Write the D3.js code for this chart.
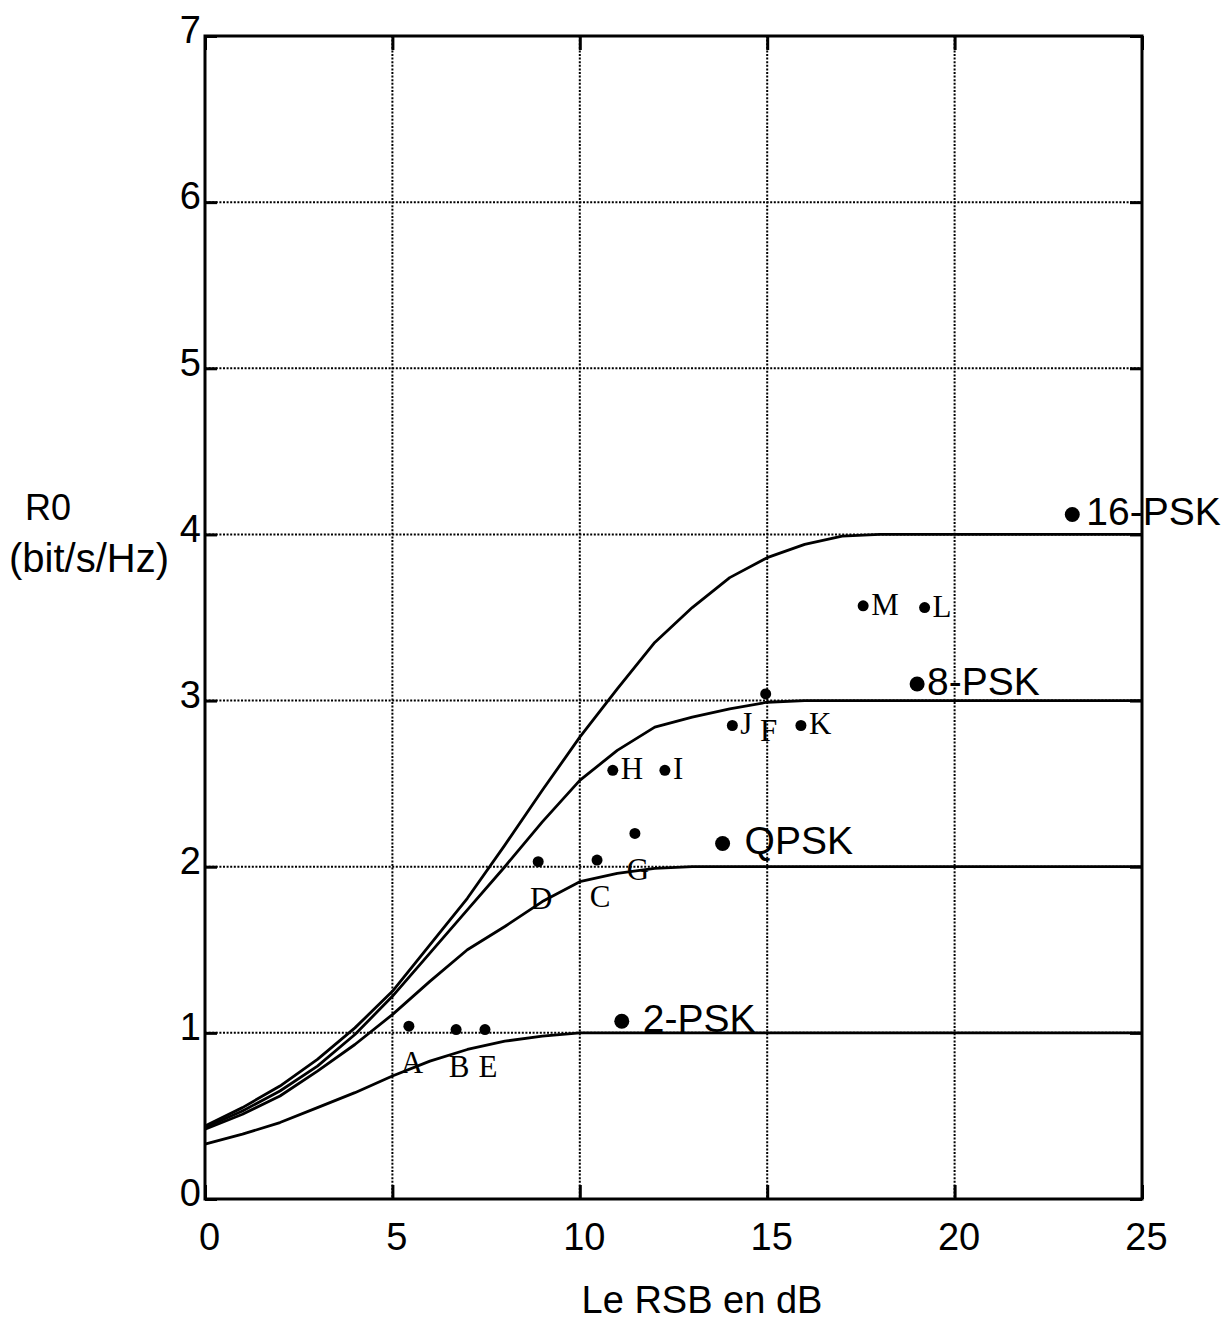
<!DOCTYPE html>
<html lang="fr">
<head>
<meta charset="utf-8">
<title>R0 vs RSB</title>
<script src="https://d3js.org/d3.v7.min.js"></script>
<style>
  body { margin: 0; background: #fff; }
  svg { display: block; }
  .tick text { font-family: "Liberation Sans", Arial, sans-serif; font-size: 38px; fill: #000; }
</style>
</head>
<body>
<script>
// data
var snr = [0,1,2,3,4,5,6,7,8,9,10,11,12,13,14,15,16,17,18,19,20,21,22,23,24,25];
var psk2  = [0.33,0.39,0.46,0.55,0.64,0.74,0.83,0.90,0.95,0.98,1.00,1,1,1,1,1,1,1,1,1,1,1,1,1,1,1];
var qpsk  = [0.42,0.51,0.62,0.77,0.93,1.11,1.31,1.50,1.64,1.79,1.91,1.96,1.99,2,2,2,2,2,2,2,2,2,2,2,2,2];
var psk8  = [0.43,0.53,0.65,0.80,0.99,1.22,1.48,1.74,2.00,2.27,2.52,2.70,2.84,2.90,2.95,2.99,3,3,3,3,3,3,3,3,3,3];
var psk16 = [0.44,0.55,0.68,0.84,1.03,1.25,1.53,1.81,2.13,2.46,2.78,3.07,3.35,3.56,3.74,3.86,3.94,3.99,4,4,4,4,4,4,4,4];

// measured points (small) and the modulation labels (big)
var ptNames = ["A","B","E","D","C","G","H","I","J","F","K","M","L"];
var ptSnr   = [5.44,6.70,7.47,8.89,10.46,11.47,10.88,12.27,14.07,14.96,15.90,17.56,19.20];
var ptR0    = [1.04,1.02,1.02,2.03,2.04,2.20,2.58,2.58,2.85,3.04,2.85,3.57,3.56];
var ptSide  = ["below","below","below","below","below","below","right","right","right","below","right","right","right"];

var modNames = ["2-PSK","QPSK","8-PSK","16-PSK"];
var modSnr   = [11.12,13.81,19.00,23.14];
var modR0    = [1.07,2.14,3.10,4.12];
var modGap   = [21,22,10,14];

var xTicks = [0,5,10,15,20,25];
var yTicks = [0,1,2,3,4,5,6,7];

var W = 1224, H = 1320;
var x0 = 205, x1 = 1142, yb = 1199, yt = 36;

var svg = d3.select("body").append("svg")
  .attr("width", W).attr("height", H);

var x = d3.scaleLinear().domain([0, 25]).range([x0, x1]);
var y = d3.scaleLinear().domain([0, 7]).range([yb, yt]);

// dotted grid
var grid = svg.append("g")
  .attr("stroke", "#000").attr("stroke-width", 2)
  .attr("stroke-dasharray", "2,1.6");
grid.selectAll("line.v").data(xTicks.slice(1, -1)).enter().append("line")
  .attr("x1", function(d){ return x(d); }).attr("x2", function(d){ return x(d); })
  .attr("y1", yt).attr("y2", yb);
grid.selectAll("line.h").data(yTicks.slice(1, -1)).enter().append("line")
  .attr("x1", x0).attr("x2", x1)
  .attr("y1", function(d){ return y(d); }).attr("y2", function(d){ return y(d); });

// axes (ticks inward)
var gx = svg.append("g").attr("transform", "translate(0," + yb + ")")
  .call(d3.axisBottom(x).tickValues(xTicks).tickFormat(d3.format("d"))
    .tickSizeInner(-14).tickSizeOuter(0).tickPadding(24));
gx.selectAll("text").attr("dx", 4);
var gy = svg.append("g").attr("transform", "translate(" + x0 + ",0)")
  .call(d3.axisLeft(y).tickValues(yTicks).tickFormat(d3.format("d"))
    .tickSizeInner(-12).tickSizeOuter(0).tickPadding(4));
gy.selectAll("text").attr("dy", "0.18em");
svg.append("g").attr("transform", "translate(0," + yt + ")")
  .call(d3.axisTop(x).tickValues(xTicks).tickSizeInner(-14).tickSizeOuter(0).tickFormat(""));
svg.append("g").attr("transform", "translate(" + x1 + ",0)")
  .call(d3.axisRight(y).tickValues(yTicks).tickSizeInner(-12).tickSizeOuter(0).tickFormat(""));
svg.selectAll(".domain").remove();
svg.selectAll(".tick line").attr("stroke", "#000").attr("stroke-width", 3);

// frame
svg.append("rect")
  .attr("x", x0).attr("y", yt).attr("width", x1 - x0).attr("height", yb - yt)
  .attr("fill", "none").attr("stroke", "#000").attr("stroke-width", 3);

// curves
var line = d3.line()
  .x(function(d){ return x(d[0]); })
  .y(function(d){ return y(d[1]); });
[psk2, qpsk, psk8, psk16].forEach(function(s){
  svg.append("path")
    .datum(snr.map(function(v, i){ return [v, s[i]]; }))
    .attr("fill", "none").attr("stroke", "#000").attr("stroke-width", 2.8)
    .attr("stroke-linejoin", "round")
    .attr("d", line);
});

// small points with serif letters
var pts = ptNames.map(function(n, i){ return {name: n, x: ptSnr[i], y: ptR0[i], side: ptSide[i]}; });
svg.selectAll("circle.pt").data(pts).enter().append("circle")
  .attr("class", "pt")
  .attr("cx", function(d){ return x(d.x); })
  .attr("cy", function(d){ return y(d.y); })
  .attr("r", 5.5).attr("fill", "#000");
svg.selectAll("text.pt").data(pts).enter().append("text")
  .attr("class", "pt")
  .attr("x", function(d){ return x(d.x) + (d.side == "below" ? 3 : 8); })
  .attr("y", function(d){ return y(d.y) + (d.side == "below" ? 47 : 9); })
  .attr("text-anchor", function(d){ return d.side == "below" ? "middle" : "start"; })
  .attr("font-family", "'Liberation Serif', 'Times New Roman', serif")
  .attr("font-size", "31px")
  .text(function(d){ return d.name; });

// modulation labels
var mods = modNames.map(function(n, i){ return {name: n, x: modSnr[i], y: modR0[i], gap: modGap[i]}; });
svg.selectAll("circle.mod").data(mods).enter().append("circle")
  .attr("class", "mod")
  .attr("cx", function(d){ return x(d.x); })
  .attr("cy", function(d){ return y(d.y); })
  .attr("r", 7.5).attr("fill", "#000");
svg.selectAll("text.mod").data(mods).enter().append("text")
  .attr("class", "mod")
  .attr("x", function(d){ return x(d.x) + d.gap; })
  .attr("y", function(d){ return y(d.y) + 11; })
  .attr("font-family", "'Liberation Sans', Arial, sans-serif")
  .attr("font-size", "39px")
  .text(function(d){ return d.name; });

// axis titles
svg.append("text").attr("x", 25).attr("y", 520)
  .attr("font-family", "'Liberation Sans', Arial, sans-serif").attr("font-size", "36px")
  .text("R0");
svg.append("text").attr("x", 9).attr("y", 572)
  .attr("font-family", "'Liberation Sans', Arial, sans-serif").attr("font-size", "40px")
  .text("(bit/s/Hz)");
svg.append("text").attr("x", 702).attr("y", 1313)
  .attr("text-anchor", "middle")
  .attr("font-family", "'Liberation Sans', Arial, sans-serif").attr("font-size", "38px")
  .text("Le RSB en dB");
</script>
</body>
</html>
